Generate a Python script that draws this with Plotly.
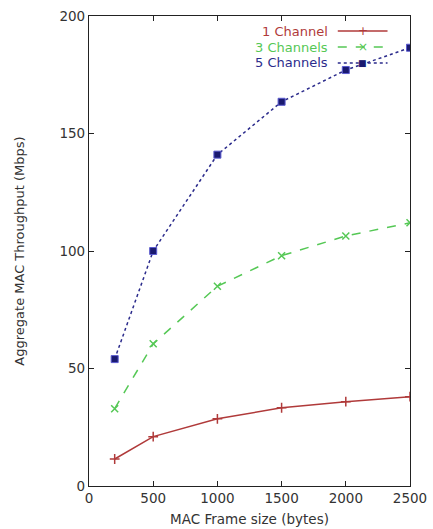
import plotly.graph_objects as go

frame_sizes = [200, 500, 1000, 1500, 2000, 2500]
one_channel = [11.5, 21, 28.6, 33.3, 35.9, 38]
three_channels = [32.9, 60.5, 85, 98, 106.4, 112]
five_channels = [54, 100, 141, 163.5, 177, 186.5]

series_names = ["1 Channel", "3 Channels", "5 Channels"]
x_ticks = [0, 500, 1000, 1500, 2000, 2500]
y_ticks = [0, 50, 100, 150, 200]

RED = "#b03a3a"
GREEN = "#55c855"
BLUE = "#2b2b8c"
FONT = "DejaVu Sans"

fig = go.Figure()
fig.add_trace(go.Scatter(x=frame_sizes, y=one_channel, mode="lines+markers", name=series_names[0],
                         line=dict(color=RED, width=1.5),
                         marker=dict(symbol="cross-thin-open", size=7, line=dict(color=RED, width=1.5))))
fig.add_trace(go.Scatter(x=frame_sizes, y=three_channels, mode="lines+markers", name=series_names[1],
                         line=dict(color=GREEN, width=1.5, dash="dash"),
                         marker=dict(symbol="x-thin-open", size=7, line=dict(color=GREEN, width=1.5))))
fig.add_trace(go.Scatter(x=frame_sizes, y=five_channels, mode="lines+markers", name=series_names[2],
                         line=dict(color=BLUE, width=1.5, dash="dot"),
                         marker=dict(symbol="square", size=7, color="#1a1a70", line=dict(color="#5a5ad0", width=1))))

# gnuplot-style key: text right-aligned, then a line sample
key_colors = [RED, GREEN, BLUE]
key_dash = ["solid", "dash", "dot"]
key_marks = ["+", "×", "■"]
key_y = [0.968, 0.934, 0.9]
for name, c, d, m, ky in zip(series_names, key_colors, key_dash, key_marks, key_y):
    fig.add_annotation(x=0.75, y=ky, xref="paper", yref="paper", text=name, showarrow=False,
                       xanchor="right", yanchor="middle", font=dict(family=FONT, size=13, color=c))
    fig.add_shape(type="line", xref="paper", yref="paper", x0=0.775, x1=0.93, y0=ky, y1=ky,
                  line=dict(color=c, width=1.5, dash=d))
    fig.add_annotation(x=0.853, y=ky, xref="paper", yref="paper", text=m, showarrow=False,
                       xanchor="center", yanchor="middle",
                       font=dict(family=FONT, size=12 if m != "■" else 9, color=c if m != "■" else "#1a1a70"))

axis_common = dict(showline=True, linecolor="#222", linewidth=1.2, mirror="ticks", ticks="inside",
                   ticklen=5, tickcolor="#222", showgrid=False, zeroline=False, automargin=False,
                   tickfont=dict(family=FONT, size=13.5, color="#333"))
fig.update_xaxes(range=[0, 2500], tickvals=x_ticks, title=dict(text="MAC Frame size (bytes)", standoff=9,
                 font=dict(family=FONT, size=13.5, color="#333")), **axis_common)
fig.update_yaxes(range=[0, 200], tickvals=y_ticks, title=dict(text="Aggregate MAC Throughput (Mbps)", standoff=31,
                 font=dict(family=FONT, size=13, color="#333")), **axis_common)

fig.update_layout(width=433, height=529, margin=dict(l=89, r=23, t=16, b=43),
                  plot_bgcolor="white", paper_bgcolor="white", showlegend=False)
fig.write_html("out.html", config={"displayModeBar": False},
               post_script="document.body.style.margin='0';document.body.style.overflow='hidden';")
